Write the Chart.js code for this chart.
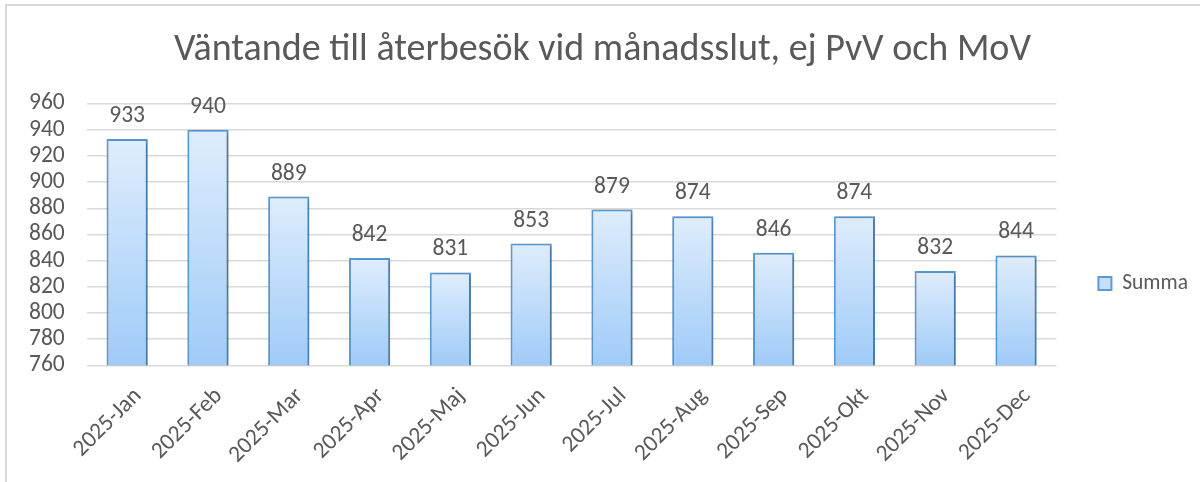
<!DOCTYPE html>
<html>
<head>
<meta charset="utf-8">
<script src="https://cdn.jsdelivr.net/npm/chart.js@4.4.1/dist/chart.umd.min.js"></script>
<style>
  html, body { margin: 0; padding: 0; background: #fff; overflow: hidden; }
  #wrap { position: relative; width: 1200px; height: 482px; overflow: hidden; }
  #frame { position: absolute; left: 5px; top: 4px; width: 1300px; height: 600px; border: 2px solid #d9d9d9; }
  #holder { position: absolute; left: 0; top: 0; width: 1200px; height: 482px; }
</style>
</head>
<body>
<div id="wrap">
  <div id="frame"></div>
  <div id="holder"><canvas id="canvasVantande" width="1200" height="482"></canvas></div>
</div>
<script>
// manader och antal vantande
var toMeses = ['2025-Jan','2025-Feb','2025-Mar','2025-Apr','2025-Maj','2025-Jun','2025-Jul','2025-Aug','2025-Sep','2025-Okt','2025-Nov','2025-Dec'];
var toSumma = [933, 940, 889, 842, 831, 853, 879, 874, 846, 874, 832, 844];
var yMin = 760, yMax = 960, yStep = 20;

var fuente = 'Carlito, Lato, "Open Sans", sans-serif';
var gris = '#595959';
var tam = 23.5;

// gradiente por barra (claro arriba, azul abajo)
function fondoBarra(context){
	var chart = context.chart;
	var area = chart.chartArea;
	if(!area || context.dataIndex === undefined) return '#bdddfa';
	var y = chart.scales.y.getPixelForValue(context.raw);
	var g = chart.ctx.createLinearGradient(0, y, 0, area.bottom);
	g.addColorStop(0, '#dfedfc');
	g.addColorStop(1, '#9fcbf8');
	return g;
}

// etiquetas encima de las barras
var etiquetas = {
	id: 'etiquetas',
	afterDatasetsDraw: function(chart){
		var ctx = chart.ctx;
		var meta = chart.getDatasetMeta(0);
		ctx.save();
		ctx.font = tam + 'px ' + fuente;
		ctx.fillStyle = gris;
		ctx.textAlign = 'center';
		ctx.textBaseline = 'alphabetic';
		meta.data.forEach(function(bar, i){
			ctx.fillText(toSumma[i], bar.x, bar.y - 17);
		});
		ctx.restore();
	}
};

// sombra suave de las barras
var sombra = {
	id: 'sombra',
	beforeDatasetsDraw: function(chart){
		var ctx = chart.ctx;
		ctx.save();
		ctx.shadowColor = 'rgba(0,0,0,0.28)';
		ctx.shadowBlur = 4;
		ctx.shadowOffsetX = 2;
		ctx.shadowOffsetY = 1;
	},
	afterDatasetsDraw: function(chart){
		chart.ctx.restore();
	}
};

window.onload = function(){
	var ctx = document.getElementById('canvasVantande').getContext('2d');
	window.myBar = new Chart(ctx, {
		type: 'bar',
		data: {
			labels: toMeses,
			datasets: [{
				label: 'Summa',
				data: toSumma,
				backgroundColor: fondoBarra,
				borderColor: '#5b9bd5',
				borderWidth: 2,
				borderSkipped: false,
				categoryPercentage: 1,
				barPercentage: 0.51
			}]
		},
		plugins: [sombra, etiquetas],
		options: {
			responsive: false,
			animation: false,
			devicePixelRatio: 1,
			layout: { padding: { left: 7, right: 2, top: 0, bottom: 4 } },
			plugins: {
				title: {
					display: true,
					text: 'Väntande till återbesök vid månadsslut, ej PvV och MoV',
					color: gris,
					font: { family: fuente, size: 38, weight: 'normal' },
					padding: { top: 28, bottom: 30 }
				},
				legend: {
					position: 'right',
					title: {
						display: true,
						text: ' ',
						font: { size: 1 },
						padding: { top: 88, bottom: 0 }
					},
					labels: {
						color: gris,
						font: { family: fuente, size: 21.5 },
						boxWidth: 13,
						boxHeight: 13,
						padding: 42,
						generateLabels: function(chart){
							return [{
								text: 'Summa',
								fillStyle: '#c6e0fb',
								strokeStyle: '#5b9bd5',
								lineWidth: 2,
								fontColor: gris,
								datasetIndex: 0
							}];
						}
					}
				},
				tooltip: { enabled: false }
			},
			scales: {
				x: {
					grid: { display: false },
					border: { display: false },
					ticks: {
						color: gris,
						font: { family: fuente, size: tam },
						minRotation: 45,
						maxRotation: 45,
						autoSkip: false,
						labelOffset: 11,
						padding: 9
					}
				},
				y: {
					min: yMin,
					max: yMax,
					grid: { color: '#d9d9d9', lineWidth: 1.5, drawTicks: false },
					border: { display: false },
					ticks: {
						stepSize: yStep,
						autoSkip: false,
						color: gris,
						font: { family: fuente, size: tam },
						padding: 22
					}
				}
			}
		}
	});
};
</script>
</body>
</html>
